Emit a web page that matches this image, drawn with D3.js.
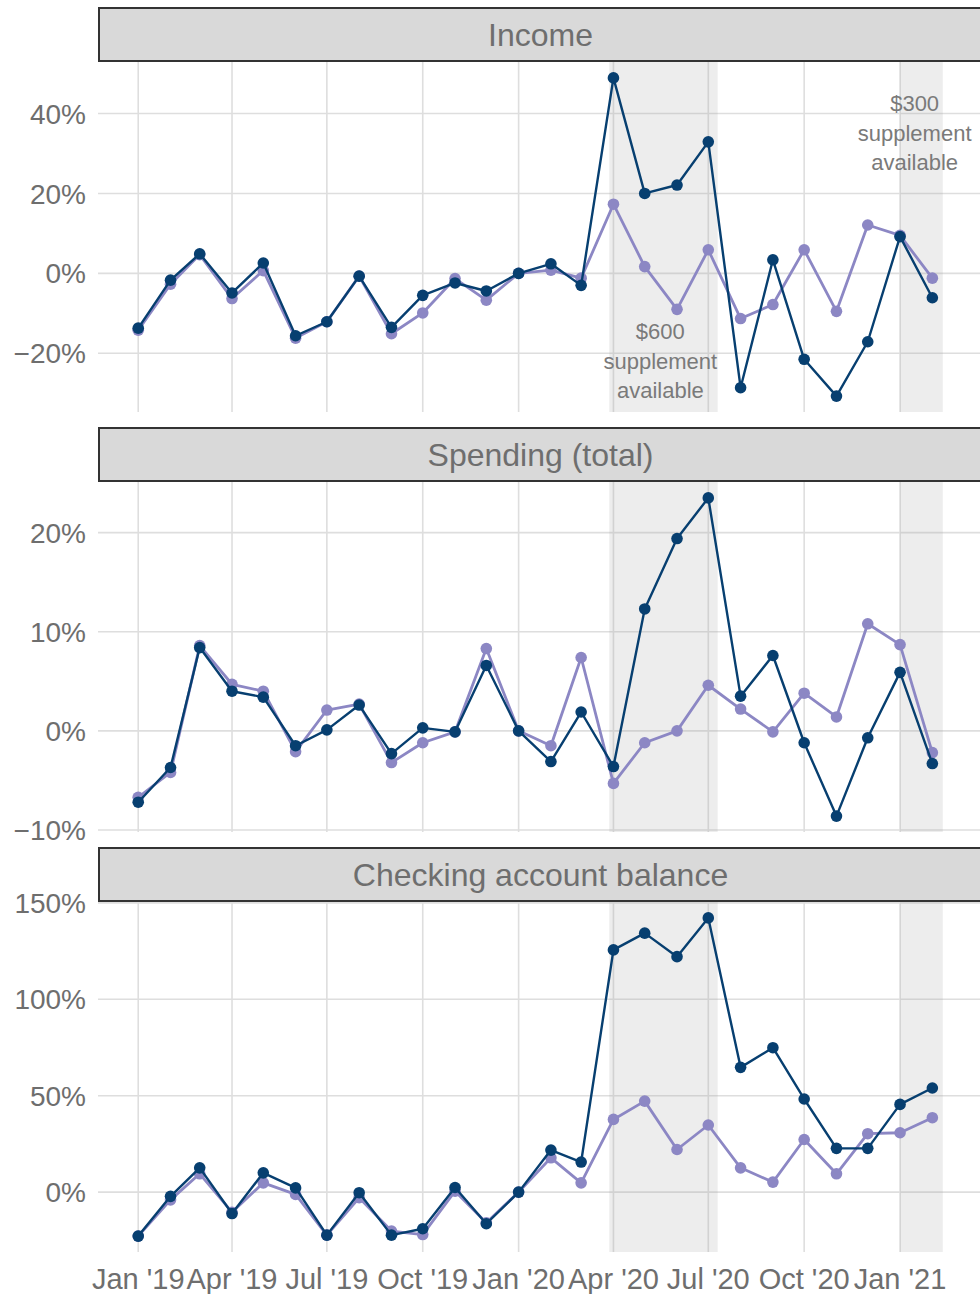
<!DOCTYPE html>
<html>
<head>
<meta charset="utf-8">
<script src="https://cdn.jsdelivr.net/npm/d3@7"></script>
<style>
  body { margin: 0; background: #fff; }
  svg text { font-family: "Liberation Sans", Arial, Helvetica, sans-serif; }
</style>
</head>
<body>
<svg id="chart"></svg>
<script>
// months shown on the x axis (one point per month)
var months = ["2019-01", "2019-02", "2019-03", "2019-04", "2019-05", "2019-06", "2019-07", "2019-08",
              "2019-09", "2019-10", "2019-11", "2019-12", "2020-01", "2020-02", "2020-03", "2020-04",
              "2020-05", "2020-06", "2020-07", "2020-08", "2020-09", "2020-10", "2020-11", "2020-12",
              "2021-01", "2021-02"];

// dark (navy) series and light (purple) series, % change
var incomeDark = [-13.7, -1.7, 4.9, -4.9, 2.6, -15.6, -12.1, -0.7, -13.5, -5.5, -2.4, -4.4, 0, 2.4, -3.0,
                  48.9, 20.0, 22.1, 32.9, -28.6, 3.4, -21.5, -30.7, -17.1, 9.2, -6.1];
var incomeLight = [-14.2, -2.7, 4.7, -6.3, 0.7, -16.2, -12.1, -0.7, -15.1, -9.9, -1.3, -6.7, 0, 0.8, -1.2,
                   17.3, 1.7, -9.0, 5.9, -11.3, -7.8, 5.9, -9.5, 12.1, 9.5, -1.2];

var spendingDark = [-7.2, -3.7, 8.4, 4.0, 3.4, -1.5, 0.1, 2.6, -2.3, 0.3, -0.1, 6.6, 0, -3.1, 1.9,
                    -3.6, 12.3, 19.4, 23.5, 3.5, 7.6, -1.2, -8.6, -0.7, 5.9, -3.3];
var spendingLight = [-6.7, -4.2, 8.6, 4.7, 4.0, -2.1, 2.1, 2.7, -3.2, -1.2, -0.1, 8.3, 0, -1.5, 7.4,
                     -5.3, -1.2, 0, 4.6, 2.2, -0.1, 3.8, 1.4, 10.8, 8.7, -2.2];

var checkingDark = [-22.8, -2.2, 12.6, -11.1, 10.0, 2.2, -22.3, -0.3, -22.3, -19.0, 2.4, -16.4, 0, 21.8, 15.6,
                    125.6, 134.3, 122.1, 142.2, 64.7, 74.9, 48.3, 22.7, 22.7, 45.5, 54.0];
var checkingLight = [-22.8, -4.0, 9.5, -10.4, 4.8, -1.2, -22.3, -2.9, -20.2, -22.0, 0.5, -15.9, 0, 17.8, 4.8,
                     37.7, 47.2, 22.1, 34.8, 12.6, 5.2, 27.3, 9.5, 30.3, 30.8, 38.6];

// facet titles and y ticks
var panelTitles = ["Income", "Spending (total)", "Checking account balance"];
var yTicks = [[-20, 0, 20, 40], [-10, 0, 10, 20], [0, 50, 100, 150]];

// x ticks
var xTickDates = ["2019-01-01", "2019-04-01", "2019-07-01", "2019-10-01", "2020-01-01",
                  "2020-04-01", "2020-07-01", "2020-10-01", "2021-01-01"];
var xTickLabels = ["Jan '19", "Apr '19", "Jul '19", "Oct '19", "Jan '20", "Apr '20", "Jul '20", "Oct '20", "Jan '21"];

// supplement periods (shaded) and their labels
var shadeStart = ["2020-03-28", "2021-01-01"];
var shadeEnd = ["2020-07-10", "2021-02-11"];
var noteLines = [["$600", "supplement", "available"], ["$300", "supplement", "available"]];
var noteDates = ["2020-05-16", "2021-01-15"];
var noteValues = [-14.5, 42.5];

var darkColor = "#073f70";
var lightColor = "#8c87c4";
var textColor = "#6e6e6e";

drawChart();

function drawChart() {
    var svgWidth = 980, svgHeight = 1294;
    var panelTops = [62, 482, 902];
    var panelHeight = 350;
    var stripHeight = 53;

    var svg = d3.select("#chart")
        .attr("width", svgWidth)
        .attr("height", svgHeight);

    var parse = d3.timeParse("%Y-%m-%d");
    var dates = months.map(function(m) { return parse(m + "-01"); });

    // x domain covers the data and shading, then 5% padding each side (like ggplot)
    var x0 = dates[0], x1 = parse(shadeEnd[1]);
    var pad = (x1 - x0) * 0.05;
    var x = d3.scaleTime()
        .domain([new Date(+x0 - pad), new Date(+x1 + pad)])
        .range([98, 983]);

    var series = [[incomeLight, incomeDark], [spendingLight, spendingDark], [checkingLight, checkingDark]];

    series.forEach(function(pair, p) {
        var top = panelTops[p];
        var all = pair[0].concat(pair[1]);
        var ext = d3.extent(all);
        var ypad = (ext[1] - ext[0]) * 0.05;
        var y = d3.scaleLinear()
            .domain([ext[0] - ypad, ext[1] + ypad])
            .range([top + panelHeight, top]);

        var g = svg.append("g");

        // grid lines
        g.selectAll(".vgrid")
            .data(xTickDates)
            .enter().append("line")
            .attr("x1", function(d) { return x(parse(d)); })
            .attr("x2", function(d) { return x(parse(d)); })
            .attr("y1", top)
            .attr("y2", top + panelHeight)
            .attr("stroke", "#dedede")
            .attr("stroke-width", 1.6);

        g.selectAll(".hgrid")
            .data(yTicks[p])
            .enter().append("line")
            .attr("x1", x.range()[0])
            .attr("x2", x.range()[1])
            .attr("y1", function(d) { return y(d); })
            .attr("y2", function(d) { return y(d); })
            .attr("stroke", "#dedede")
            .attr("stroke-width", 1.6);

        // shaded supplement periods
        g.selectAll(".shade")
            .data(shadeStart)
            .enter().append("rect")
            .attr("x", function(d) { return x(parse(d)); })
            .attr("width", function(d, i) { return x(parse(shadeEnd[i])) - x(parse(d)); })
            .attr("y", top)
            .attr("height", panelHeight)
            .attr("fill", "#999")
            .attr("fill-opacity", 0.18);

        // y axis labels
        g.selectAll(".ylab")
            .data(yTicks[p])
            .enter().append("text")
            .attr("x", 86)
            .attr("y", function(d) { return y(d); })
            .attr("dy", "0.36em")
            .attr("text-anchor", "end")
            .attr("fill", textColor)
            .style("font-size", "28px")
            .text(function(d) { return (d < 0 ? "\u2212" + Math.abs(d) : d) + "%"; });

        // strip on top of panel
        svg.append("rect")
            .attr("x", 99)
            .attr("y", top - stripHeight - 1)
            .attr("width", 883)
            .attr("height", stripHeight)
            .attr("fill", "#d9d9d9")
            .attr("stroke", "#333")
            .attr("stroke-width", 2);

        svg.append("text")
            .attr("x", (99 + 982) / 2)
            .attr("y", top - stripHeight / 2 - 1)
            .attr("dy", "0.36em")
            .attr("text-anchor", "middle")
            .attr("fill", textColor)
            .style("font-size", "32px")
            .text(panelTitles[p]);

        // lines + points, light first so dark sits on top
        var colors = [lightColor, darkColor];
        var widths = [2.8, 2.4];
        pair.forEach(function(vals, s) {
            var line = d3.line()
                .x(function(d, i) { return x(dates[i]); })
                .y(function(d) { return y(d); });

            g.append("path")
                .datum(vals)
                .attr("fill", "none")
                .attr("stroke", colors[s])
                .attr("stroke-width", widths[s])
                .attr("stroke-linejoin", "round")
                .attr("d", line);

            g.selectAll(".pt" + s)
                .data(vals)
                .enter().append("circle")
                .attr("cx", function(d, i) { return x(dates[i]); })
                .attr("cy", function(d) { return y(d); })
                .attr("r", 5.8)
                .attr("fill", colors[s]);
        });

        // supplement notes only in the income panel
        if (p == 0) {
            noteLines.forEach(function(lines, n) {
                var t = g.append("text")
                    .attr("text-anchor", "middle")
                    .attr("fill", "#7a7a7a")
                    .style("font-size", "22px");
                lines.forEach(function(l, k) {
                    t.append("tspan")
                        .attr("x", x(parse(noteDates[n])))
                        .attr("y", y(noteValues[n]) + k * 29.5)
                        .attr("dy", "0.36em")
                        .text(l);
                });
            });
        }
    });

    // x axis labels under the last panel
    svg.selectAll(".xlab")
        .data(xTickDates)
        .enter().append("text")
        .attr("x", function(d) { return x(parse(d)); })
        .attr("y", 1289)
        .attr("text-anchor", "middle")
        .attr("fill", textColor)
        .style("font-size", "29px")
        .text(function(d, i) { return xTickLabels[i]; });
}
</script>
</body>
</html>
